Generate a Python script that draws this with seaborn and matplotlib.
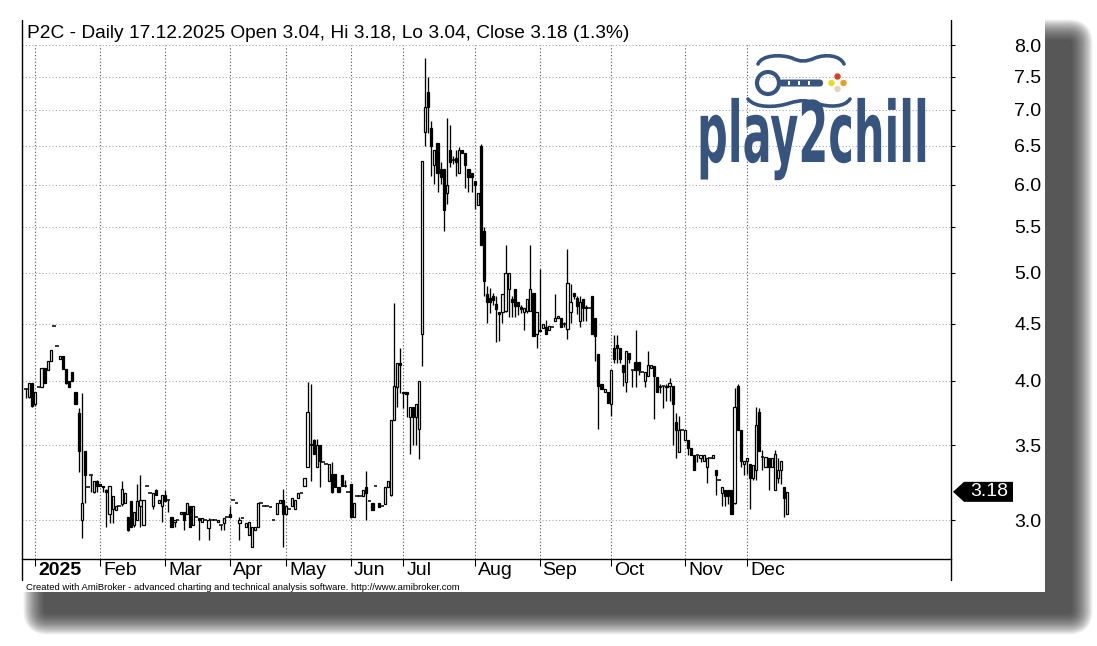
import numpy as np
import pandas as pd
import seaborn as sns
import matplotlib.pyplot as plt
from matplotlib import patheffects
from matplotlib.patches import Rectangle, Circle, FancyBboxPatch, PathPatch, Polygon
from matplotlib.path import Path
from matplotlib.ticker import NullLocator
from matplotlib.transforms import Affine2D, ScaledTranslation

W, H = 1097, 646

# daily OHLC, 19.12.2024 .. 17.12.2025
opens = [
    3.93, 3.87, 3.98,
    3.81, 3.95, 3.95, 4.11, 4.09, 4.17, 4.48, 4.30, 4.18, 4.21, 4.10, 4.00, 4.07, 3.91, 3.74, 3.00, 3.46, 3.21, 3.29, 3.18, 3.25,
    3.23, 3.22, 3.19, 3.04, 3.07, 3.06, 3.09, 3.10, 3.11, 3.02, 3.12, 2.97, 3.00, 3.09, 2.97, 3.22, 3.17, 3.09, 3.19, 3.11, 3.09,
    3.16, 3.13, 3.02, 2.99, 3.00, 3.04, 3.05, 3.04, 3.09, 2.97, 3.02, 3.01, 2.99, 3.00, 2.95, 3.00, 3.00, 2.99, 2.97, 2.98, 3.02,
    3.04, 3.13, 3.11, 2.98, 3.01, 2.96, 2.91, 2.84, 2.94, 2.96, 3.11, 3.09, 3.09, 3.08, 3.00, 3.04, 3.11, 3.13,
    3.04, 3.07, 3.09, 3.07, 3.14, 3.17, 3.22, 3.35, 3.51, 3.54, 3.35, 3.50, 3.38, 3.37, 3.25, 3.30, 3.30, 3.21, 3.29, 3.22, 3.18,
    3.23, 3.02, 3.15, 3.15, 3.15, 3.21, 3.12, 3.11, 3.22, 3.11, 3.09, 3.10, 3.21, 3.16, 3.69, 3.95, 4.15,
    3.90, 3.91, 3.71, 3.79, 3.71, 3.62, 4.41, 6.69, 7.26, 6.75, 6.25, 6.54, 6.20, 6.20, 5.90, 6.45, 6.31, 6.34, 6.15, 6.45, 6.40, 6.20, 6.15,
    6.05, 5.75, 6.50, 5.45, 4.79, 4.75, 4.77, 4.69, 4.61, 4.61, 4.62, 4.84, 4.74, 4.84, 4.71, 4.66, 4.61, 4.62, 4.62, 4.80, 4.41,
    4.43, 4.46, 4.47, 4.44, 4.47, 4.53, 4.55, 4.55, 4.50, 4.45, 4.61, 4.80, 4.75, 4.53, 4.74, 4.65, 4.65, 4.77, 4.55, 4.23, 3.97, 3.91, 3.91,
    3.81, 4.28, 4.31, 4.28, 4.13, 3.99, 4.24, 4.09, 4.16, 4.16, 4.07, 4.00, 4.04, 4.11, 4.12, 4.03, 3.95, 3.96, 3.95, 3.96, 3.96, 3.67, 3.45, 3.61,
    3.54, 3.54, 3.48, 3.43, 3.43, 3.41, 3.39, 3.35, 3.41, 3.41, 3.33, 3.26, 3.17, 3.19, 3.19, 3.19, 3.11, 3.96, 3.61, 3.37,
    3.39, 3.37, 3.27, 3.33, 3.75, 3.42, 3.35, 3.41, 3.35, 3.19, 3.27, 3.33, 3.21, 3.04,
]
highs = [
    3.94, 3.98, 3.98,
    3.91, 3.95, 4.11, 4.11, 4.17, 4.26, 4.48, 4.30, 4.21, 4.21, 4.10, 4.00, 4.07, 3.91, 3.78, 3.90, 3.46, 3.21, 3.29, 3.25, 3.26,
    3.23, 3.22, 3.20, 3.22, 3.15, 3.09, 3.09, 3.25, 3.17, 3.02, 3.12, 3.05, 3.23, 3.29, 3.13, 3.22, 3.17, 3.17, 3.20, 3.13, 3.16,
    3.19, 3.13, 3.02, 3.00, 3.00, 3.05, 3.05, 3.11, 3.09, 3.09, 3.02, 3.01, 3.01, 3.00, 3.01, 3.00, 3.00, 3.00, 2.97, 3.01, 3.02,
    3.09, 3.13, 3.11, 3.02, 3.01, 2.98, 2.99, 2.96, 2.96, 3.11, 3.11, 3.09, 3.09, 3.08, 3.00, 3.11, 3.13, 3.20,
    3.09, 3.07, 3.14, 3.13, 3.17, 3.17, 3.27, 3.99, 3.97, 3.55, 3.55, 3.50, 3.38, 3.37, 3.37, 3.38, 3.30, 3.21, 3.29, 3.26, 3.18,
    3.23, 3.11, 3.15, 3.15, 3.19, 3.32, 3.12, 3.11, 3.22, 3.11, 3.09, 3.21, 3.25, 3.69, 4.70, 4.15, 4.28,
    3.91, 3.91, 3.79, 3.79, 3.81, 4.00, 6.30, 7.79, 7.49, 6.84, 6.45, 6.54, 6.28, 6.20, 6.89, 6.78, 6.36, 6.44, 6.49, 6.45, 6.40, 6.20, 6.15,
    6.05, 5.90, 6.52, 5.50, 4.87, 4.85, 4.80, 4.77, 4.61, 4.79, 5.30, 5.00, 4.77, 4.84, 4.71, 4.68, 4.65, 4.74, 5.30, 4.80, 4.61,
    5.04, 4.50, 4.54, 4.48, 4.47, 4.79, 4.57, 4.55, 4.52, 5.25, 4.89, 4.80, 4.77, 4.77, 4.74, 4.68, 4.65, 4.77, 4.55, 4.23, 3.97, 3.93, 3.91,
    4.09, 4.40, 4.40, 4.28, 4.13, 4.25, 4.24, 4.09, 4.44, 4.16, 4.07, 4.07, 4.25, 4.13, 4.12, 4.03, 3.97, 3.96, 3.97, 4.02, 3.96, 3.74, 3.72, 3.61,
    3.61, 3.54, 3.48, 3.43, 3.43, 3.43, 3.43, 3.41, 3.41, 3.43, 3.33, 3.26, 3.21, 3.19, 3.19, 3.19, 3.94, 3.97, 3.61, 3.39,
    3.41, 3.37, 3.36, 3.79, 3.78, 3.47, 3.42, 3.41, 3.41, 3.47, 3.41, 3.39, 3.21, 3.18,
]
lows = [
    3.86, 3.86, 3.79,
    3.80, 3.95, 3.95, 3.98, 4.09, 4.17, 4.48, 4.30, 4.18, 4.10, 3.97, 3.95, 4.00, 3.81, 3.31, 2.89, 3.11, 3.21, 3.18, 3.17, 3.18,
    3.22, 3.18, 2.96, 2.98, 2.98, 3.06, 3.09, 3.09, 3.11, 2.93, 2.96, 2.96, 3.00, 2.96, 2.97, 3.22, 3.17, 3.07, 3.16, 3.11, 2.99,
    3.12, 3.05, 2.96, 2.96, 3.00, 3.04, 2.94, 3.04, 2.96, 2.97, 3.02, 2.88, 2.99, 3.00, 2.88, 3.00, 3.00, 2.99, 2.94, 2.94, 3.02,
    3.02, 3.13, 3.11, 2.88, 3.01, 2.96, 2.91, 2.84, 2.94, 2.96, 3.11, 3.09, 3.09, 3.08, 3.00, 3.04, 3.11, 2.84,
    3.04, 3.07, 3.09, 3.07, 3.14, 3.17, 3.22, 3.35, 3.25, 3.44, 3.35, 3.21, 3.38, 3.37, 3.25, 3.17, 3.21, 3.18, 3.22, 3.21, 3.18,
    3.02, 3.02, 3.15, 3.15, 3.15, 3.00, 3.12, 3.06, 3.22, 3.08, 3.09, 3.10, 3.21, 3.15, 3.69, 3.79, 3.90,
    3.78, 3.71, 3.44, 3.50, 3.50, 3.40, 4.12, 6.50, 6.67, 6.11, 6.01, 5.91, 6.01, 5.45, 5.76, 6.22, 6.26, 6.11, 6.15, 6.40, 5.96, 5.91, 5.91,
    5.70, 5.75, 5.30, 4.77, 4.51, 4.60, 4.68, 4.33, 4.34, 4.51, 4.61, 4.56, 4.56, 4.56, 4.58, 4.60, 4.44, 4.60, 4.62, 4.39, 4.28,
    4.43, 4.46, 4.41, 4.44, 4.47, 4.53, 4.55, 4.47, 4.47, 4.36, 4.51, 4.74, 4.59, 4.47, 4.53, 4.53, 4.65, 4.41, 4.17, 3.62, 3.93, 3.91, 3.82,
    3.72, 4.15, 4.15, 4.15, 3.96, 3.91, 4.15, 3.95, 3.95, 4.05, 4.07, 3.95, 4.04, 4.11, 3.70, 3.91, 3.90, 3.78, 3.84, 3.84, 3.50, 3.41, 3.45, 3.61,
    3.54, 3.43, 3.43, 3.33, 3.38, 3.38, 3.39, 3.24, 3.41, 3.41, 3.16, 3.26, 3.09, 3.09, 3.10, 3.04, 3.10, 3.61, 3.35, 3.29,
    3.30, 3.07, 3.26, 3.26, 3.46, 3.33, 3.35, 3.19, 3.35, 3.19, 3.24, 3.23, 3.02, 3.04,
]
closes = [
    3.93, 3.98, 3.80,
    3.91, 3.95, 4.11, 3.98, 4.17, 4.26, 4.48, 4.30, 4.21, 4.10, 3.98, 3.95, 4.00, 3.81, 3.46, 3.11, 3.29, 3.21, 3.29, 3.25, 3.22,
    3.22, 3.21, 3.18, 3.22, 3.15, 3.09, 3.09, 3.20, 3.17, 2.94, 2.96, 3.05, 3.12, 3.13, 3.13, 3.22, 3.17, 3.17, 3.16, 3.13, 3.16,
    3.12, 3.13, 2.96, 3.00, 3.00, 3.05, 3.00, 3.11, 2.96, 3.09, 3.02, 3.00, 3.01, 3.00, 3.00, 3.00, 3.00, 3.00, 2.97, 3.01, 3.02,
    3.02, 3.13, 3.11, 3.00, 3.01, 2.98, 2.99, 2.96, 2.96, 3.11, 3.11, 3.09, 3.09, 3.08, 3.00, 3.11, 3.13, 3.04,
    3.09, 3.07, 3.14, 3.13, 3.17, 3.17, 3.27, 3.75, 3.50, 3.44, 3.50, 3.39, 3.38, 3.37, 3.37, 3.18, 3.21, 3.18, 3.22, 3.22, 3.18,
    3.02, 3.11, 3.15, 3.15, 3.19, 3.17, 3.12, 3.06, 3.22, 3.08, 3.09, 3.21, 3.25, 3.69, 3.96, 4.15, 4.13,
    3.91, 3.89, 3.79, 3.71, 3.81, 4.00, 6.30, 7.04, 7.04, 6.50, 6.45, 6.15, 6.09, 5.69, 6.00, 6.29, 6.31, 6.29, 6.45, 6.40, 6.25, 6.09, 6.09,
    6.00, 5.90, 5.30, 4.92, 4.71, 4.71, 4.73, 4.64, 4.59, 4.79, 5.00, 5.00, 4.71, 4.67, 4.67, 4.64, 4.65, 4.74, 4.84, 4.39, 4.61,
    4.44, 4.50, 4.41, 4.48, 4.47, 4.55, 4.57, 4.47, 4.50, 4.90, 4.71, 4.77, 4.67, 4.71, 4.65, 4.66, 4.65, 4.41, 4.39, 3.96, 3.93, 3.93, 3.82,
    4.09, 4.18, 4.28, 4.18, 4.07, 4.25, 4.18, 4.09, 4.09, 4.09, 4.07, 4.07, 4.13, 4.13, 4.04, 3.91, 3.96, 3.96, 3.96, 3.98, 3.81, 3.61, 3.61, 3.61,
    3.61, 3.48, 3.43, 3.33, 3.43, 3.43, 3.43, 3.41, 3.41, 3.43, 3.29, 3.26, 3.21, 3.15, 3.15, 3.04, 3.79, 3.61, 3.39, 3.39,
    3.41, 3.27, 3.36, 3.65, 3.46, 3.42, 3.42, 3.35, 3.41, 3.44, 3.33, 3.39, 3.14, 3.18,
]

month_labels = ["2025", "Feb", "Mar", "Apr", "May", "Jun", "Jul", "Aug", "Sep", "Oct", "Nov", "Dec"]
month_start = [3, 24, 45, 66, 84, 105, 122, 145, 166, 189, 213, 233]
price_ticks = [3.0, 3.5, 4.0, 4.5, 5.0, 5.5, 6.0, 6.5, 7.0, 7.5, 8.0]

df = pd.DataFrame({"open": opens, "high": highs, "low": lows, "close": closes})
df["bar"] = np.arange(len(df))
df["up"] = df["close"] > df["open"]
df["flat"] = df["close"] == df["open"]

sns.set_theme(style="white")
plt.rcParams["font.family"] = ["Liberation Sans", "DejaVu Sans"]

fig = plt.figure(figsize=(W / 100, H / 100), dpi=100)
fig.patch.set_facecolor("white")


def pixel_axes(z):
    a = fig.add_axes([0, 0, 1, 1], zorder=z)
    a.set_xlim(0, W)
    a.set_ylim(H, 0)
    a.axis("off")
    a.patch.set_visible(False)
    return a


# paper + drop shadow
bg = pixel_axes(-2)
for k in range(18):
    p = k * 1.2
    bg.add_patch(FancyBboxPatch((44 - p, 40 - p), 1028 + 2 * p, 574 + 2 * p,
                                boxstyle=f"round,pad=0,rounding_size={4 + p:.1f}",
                                fc="#262626", ec="none", alpha=0.075))
bg.add_patch(Rectangle((0, 0), 1045, 592, fc="white", ec="none"))

# price pane
L, R, T, B = 21.7, 951, 45, 559
ax = fig.add_axes([L / W, 1 - B / H, (R - L) / W, (B - T) / H])
ax.set_facecolor("white")
ax.set_yscale("log")

body = df[~df.flat]
lo = body[["open", "close"]].min(axis=1)
hi = body[["open", "close"]].max(axis=1)
ax.vlines(df["bar"], df["low"], df["high"], color="black", lw=0.95, zorder=2)
ax.bar(body["bar"], hi - lo, bottom=lo, width=0.7,
       color=np.where(body["up"], "white", "black"), edgecolor="black", linewidth=0.9, zorder=3)
flat = df[df.flat]
ax.hlines(flat["close"], flat["bar"] - 0.6, flat["bar"] + 0.6, color="black", lw=1.1, zorder=3)

ax.set_xlim(-1.39, 298.96)
ax.set_ylim(2.768, 8.005)
ax.set_yticks(price_ticks)
ax.set_yticklabels([f"{v:.1f}" for v in price_ticks])
ax.yaxis.set_minor_locator(NullLocator())
ax.yaxis.tick_right()
ax.tick_params(axis="y", which="major", right=True, left=False, length=3, width=0.8,
               pad=62, labelsize=14, colors="black")
for t in ax.get_yticklabels():
    t.set_ha("right")

ax.set_xticks(month_start)
ax.set_xticklabels(month_labels)
ax.tick_params(axis="x", bottom=True, length=5, width=0.8, pad=-2.5, labelsize=14, colors="black")
shift = ScaledTranslation(3 / 100, 0, fig.dpi_scale_trans)
for t in ax.get_xticklabels():
    t.set_ha("left")
    t.set_transform(t.get_transform() + shift)
ax.get_xticklabels()[0].set_fontweight("bold")

ax.grid(True, axis="y", color="#a8a8a8", ls=(0, (1, 2)), lw=0.8)
ax.grid(True, axis="x", color="#505050", ls=(0, (1, 2)), lw=0.8)
ax.set_axisbelow(True)
for s in ["left", "right", "top"]:
    ax.spines[s].set_visible(False)
ax.spines["bottom"].set_color("black")
ax.spines["bottom"].set_linewidth(1.0)

# frame, title, footer, last price tag, logo
ov = pixel_axes(5)
ov.plot([L, L], [20, 580], color="black", lw=1.0)
ov.plot([R, R], [20, 580], color="black", lw=1.0)

pct = (closes[-1] / closes[-2] - 1) * 100
title = (f"P2C - Daily 17.12.2025 Open {opens[-1]:.2f}, Hi {highs[-1]:.2f}, "
         f"Lo {lows[-1]:.2f}, Close {closes[-1]:.2f} ({pct:.1f}%)")
ov.text(27, 33, title, fontsize=13.8, va="center", ha="left", color="black")
ov.text(26, 587, "Created with AmiBroker - advanced charting and technical analysis software. "
        "http://www.amibroker.com", fontsize=6.8, va="center", ha="left", color="black")

ylast = H - ax.transData.transform((0, closes[-1]))[1]
ov.add_patch(Polygon([(953, ylast), (964, ylast - 10), (1013, ylast - 10),
                      (1013, ylast + 10), (964, ylast + 10)], closed=True, fc="black", ec="none"))
ov.text(989, ylast, f"{closes[-1]:.2f}", color="white", fontsize=14, ha="center", va="center")


class Stretch(patheffects.AbstractPathEffect):
    """Draw the glyph outlines taller, about the baseline (display y0)."""

    def __init__(self, sy, y0):
        super().__init__()
        self.sy, self.y0 = sy, y0

    def draw_path(self, renderer, gc, tpath, affine, rgbFace=None):
        t = affine + Affine2D().translate(0, -self.y0).scale(1, self.sy).translate(0, self.y0)
        renderer.draw_path(gc, tpath, t, rgbFace)


blue = "#37547f"
ov.text(697, 162, "play2chill", fontsize=31, color=blue, ha="left", va="baseline",
        family="DejaVu Sans", fontweight="bold", path_effects=[Stretch(1.96, H - 162)])

ov.add_patch(Circle((768, 83), 11, fill=False, ec=blue, lw=3.0))
ov.add_patch(FancyBboxPatch((779, 79.5), 44, 7, boxstyle="round,pad=0,rounding_size=3.5", fc=blue, ec="none"))
for xm in [788, 798, 808]:
    ov.add_patch(Rectangle((xm, 81.2), 1.6, 3.6, fc="white", ec="none"))
top_curve = Path([(758, 64), (762, 55), (780, 54), (792, 58), (800, 62), (806, 62), (815, 58),
                  (825, 54), (840, 55), (844, 64)],
                 [Path.MOVETO] + [Path.CURVE4] * 9)
bot_curve = Path([(748, 99), (755, 108), (775, 108), (790, 103), (800, 100), (806, 100), (815, 103),
                  (830, 108), (845, 107), (850, 99)],
                 [Path.MOVETO] + [Path.CURVE4] * 9)
for pth in [top_curve, bot_curve]:
    ov.add_patch(PathPatch(pth, fc="none", ec=blue, lw=2.6, capstyle="round"))
for (cx, cy), col in zip([(837.5, 76.5), (831.5, 83), (843.5, 83), (837.5, 89)],
                         ["#d9411e", "#e6dc22", "#e8a021", "#e6d3bb"]):
    ov.add_patch(Circle((cx, cy), 3.2, fc=col, ec="none"))

fig.savefig("out.png", dpi=100)
